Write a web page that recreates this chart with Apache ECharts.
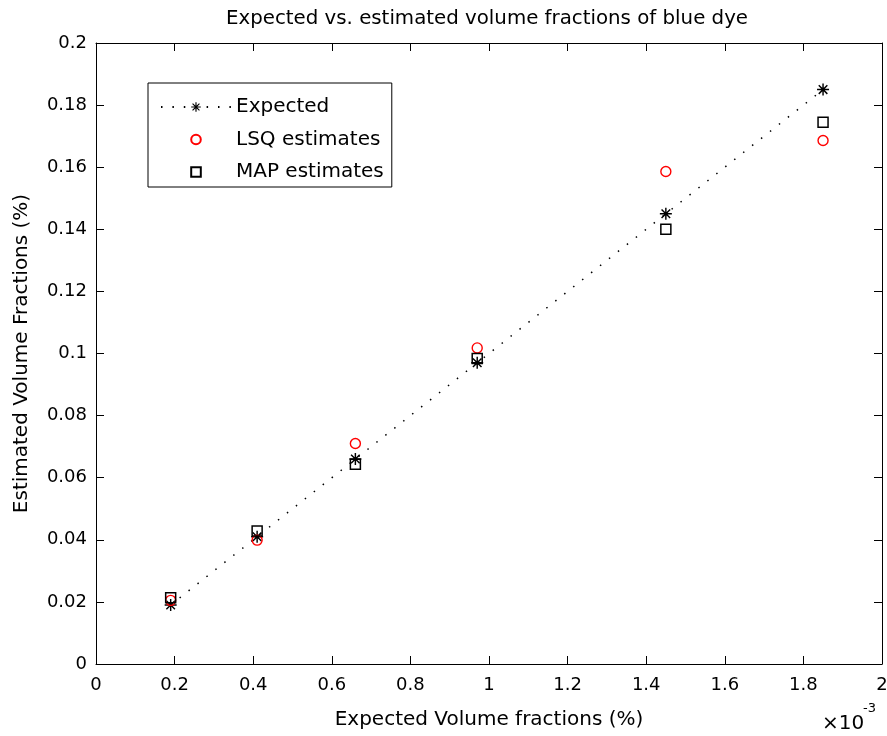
<!DOCTYPE html>
<html>
<head>
<meta charset="utf-8">
<script src="https://cdn.jsdelivr.net/npm/echarts@6/dist/echarts.min.js"></script>
<style>html,body{margin:0;padding:0;background:#fff;}#chart{width:887px;height:736px;}</style>
</head>
<body>
<div id="chart"></div>
<script>
// Data (x in units of 1e-3)
var xValues = [0.19, 0.41, 0.66, 0.97, 1.45, 1.85];
var expected = [0.019, 0.041, 0.066, 0.097, 0.145, 0.185];
var lsq = [0.0205, 0.0399, 0.0710, 0.1018, 0.1586, 0.1686];
var map = [0.0213, 0.0428, 0.0643, 0.0984, 0.1400, 0.1745];
var seriesNames = ['Expected', 'LSQ estimates', 'MAP estimates'];
var titleText = 'Expected vs. estimated volume fractions of blue dye';
var xName = 'Expected Volume fractions (%)';
var yName = 'Estimated Volume Fractions (%)';

function pairs(ys) { return xValues.map(function (x, i) { return [x, ys[i]]; }); }

var FONT = 'DejaVu Sans';
var star = 'path://M8.8,0L11.2,0L11.2,20L8.8,20Z M0,8.8L20,8.8L20,11.2L0,11.2Z M2.0,3.7L3.7,2.0L18.0,16.3L16.3,18.0Z M16.3,2.0L18.0,3.7L3.7,18.0L2.0,16.3Z';

var chart = echarts.init(document.getElementById('chart'), null, {renderer: 'canvas'});
function axisBase() {
  return {
    type: 'value',
    axisLine: {show: true, onZero: false, lineStyle: {color: '#000', width: 1}},
    axisTick: {show: true, inside: true, length: 8, lineStyle: {color: '#000', width: 1}},
    splitLine: {show: false}
  };
}
var option = {
  animation: false,
  backgroundColor: '#fff',
  title: {
    text: titleText, left: 487, top: 9, textAlign: 'center', padding: 0,
    textStyle: {fontFamily: FONT, fontSize: 19.8, fontWeight: 'normal', color: '#000'}
  },
  grid: {left: 96, right: 5, top: 43, bottom: 72, containLabel: false, outerBoundsMode: 'none'},
  legend: {
    data: seriesNames, orient: 'vertical', left: 148, top: 83,
    padding: [14, 8, 5, 12], itemWidth: 70, itemHeight: 12, itemGap: 12.5,
    borderColor: '#000', borderWidth: 1, backgroundColor: '#fff',
    textStyle: {fontFamily: FONT, fontSize: 20, color: '#000'}
  },
  xAxis: [
    Object.assign(axisBase(), {
      min: 0, max: 2, interval: 0.2, position: 'bottom',
      name: xName, nameLocation: 'middle', nameGap: 46,
      nameTextStyle: {fontFamily: FONT, fontSize: 20, color: '#000'},
      axisLabel: {show: true, margin: 12, fontFamily: FONT, fontSize: 18, color: '#000',
        formatter: function (v) { return String(+v.toFixed(1)); }}
    }),
    Object.assign(axisBase(), {
      min: 0, max: 2, interval: 0.2, position: 'top', axisLabel: {show: false}
    })
  ],
  yAxis: [
    Object.assign(axisBase(), {
      min: 0, max: 0.2, interval: 0.02, position: 'left',
      name: yName, nameLocation: 'middle', nameGap: 64,
      nameTextStyle: {fontFamily: FONT, fontSize: 20, color: '#000'},
      axisLabel: {show: true, margin: 9, fontFamily: FONT, fontSize: 18, color: '#000',
        formatter: function (v) { return String(+v.toFixed(2)); }}
    }),
    Object.assign(axisBase(), {
      min: 0, max: 0.2, interval: 0.02, position: 'right', axisLabel: {show: false}
    })
  ],
  series: [
    {
      name: seriesNames[0], type: 'line', xAxisIndex: 0, yAxisIndex: 0,
      data: pairs(expected), symbol: star, symbolSize: 12, showSymbol: true,
      lineStyle: {color: '#000', width: 1.5, type: [1.5, 9.9]},
      itemStyle: {color: '#000'}
    },
    {
      name: seriesNames[1], type: 'line', xAxisIndex: 0, yAxisIndex: 0,
      data: pairs(lsq), symbol: 'circle', symbolSize: 10,
      lineStyle: {opacity: 0, color: '#ff0000'},
      itemStyle: {color: 'none', borderColor: '#ff0000', borderWidth: 1.4}
    },
    {
      name: seriesNames[2], type: 'line', xAxisIndex: 0, yAxisIndex: 0,
      data: pairs(map), symbol: 'rect', symbolSize: 10,
      lineStyle: {opacity: 0, color: '#000'},
      itemStyle: {color: 'none', borderColor: '#000', borderWidth: 1.5}
    }
  ],
  graphic: [
    {type: 'text', left: 822, top: 714, style: {text: '×10', font: '20px "DejaVu Sans"', fill: '#000'}},
    {type: 'text', left: 863, top: 702, style: {text: '-3', font: '13px "DejaVu Sans"', fill: '#000'}}
  ]
};
chart.setOption(option);
</script>
</body>
</html>
